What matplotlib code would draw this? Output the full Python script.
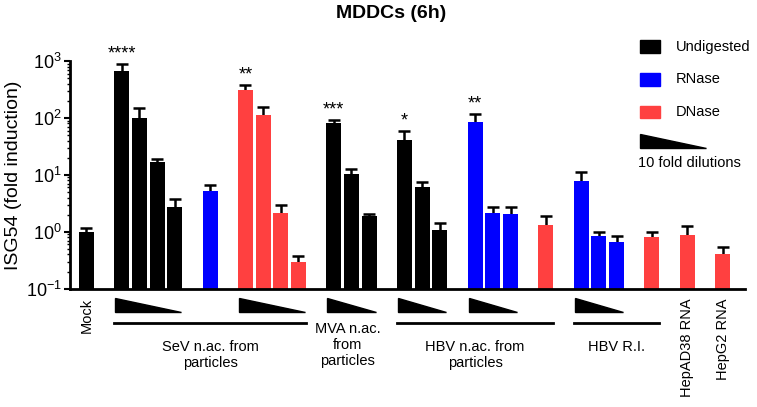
import matplotlib.pyplot as plt
from matplotlib.patches import Polygon, Rectangle
from matplotlib.lines import Line2D
from matplotlib.transforms import blended_transform_factory
from matplotlib.ticker import LogLocator, LogFormatterSciNotation, NullFormatter

plt.rcParams["font.family"] = ["Liberation Sans", "DejaVu Sans"]

BLACK = "#000000"
BLUE = "#0000ff"
RED = "#ff4040"

# fold induction (bar height) and top of the error bar
mock = [1.0]
mock_top = [1.15]
sev_undig = [680, 100, 16.6, 2.75]
sev_undig_top = [890, 150, 19.0, 3.8]
sev_rnase = [5.2]
sev_rnase_top = [6.5]
sev_dnase = [310, 111, 2.1, 0.30]
sev_dnase_top = [385, 155, 2.9, 0.37]
mva_undig = [81, 10.2, 1.87]
mva_undig_top = [92, 12.6, 2.05]
hbv_undig = [40.6, 6.1, 1.06]
hbv_undig_top = [59, 7.6, 1.41]
hbv_rnase = [85, 2.11, 2.03]
hbv_rnase_top = [117, 2.75, 2.75]
hbv_dnase = [1.33]
hbv_dnase_top = [1.9]
ri_rnase = [7.7, 0.83, 0.67]
ri_rnase_top = [11, 0.98, 0.84]
ri_dnase = [0.80]
ri_dnase_top = [0.99]
hepad38 = [0.87]
hepad38_top = [1.25]
hepg2 = [0.41]
hepg2_top = [0.53]

groups = [
    (mock, mock_top, BLACK),
    (sev_undig, sev_undig_top, BLACK),
    (sev_rnase, sev_rnase_top, BLUE),
    (sev_dnase, sev_dnase_top, RED),
    (mva_undig, mva_undig_top, BLACK),
    (hbv_undig, hbv_undig_top, BLACK),
    (hbv_rnase, hbv_rnase_top, BLUE),
    (hbv_dnase, hbv_dnase_top, RED),
    (ri_rnase, ri_rnase_top, BLUE),
    (ri_dnase, ri_dnase_top, RED),
    (hepad38, hepad38_top, RED),
    (hepg2, hepg2_top, RED),
]

# significance stars over the first bar of a group
stars = [(1, "****"), (3, "**"), (4, "***"), (5, "*"), (6, "**")]
# groups with a dilution wedge underneath
wedges = [1, 3, 4, 5, 6, 8]
# (first group, last group, label)
spans = [(1, 3, "SeV n.ac. from\nparticles"),
         (5, 7, "HBV n.ac. from\nparticles"),
         (8, 9, "HBV R.I.")]
rot_labels = [(0, "Mock"), (10, "HepAD38 RNA"), (11, "HepG2 RNA")]

W, H = 757, 407
fig = plt.figure(figsize=(W / 100, H / 100), dpi=100)
ax = fig.add_axes([70 / W, (H - 288.7) / H, 675 / W, (288.7 - 61) / H])

bw = 0.85
pos = []
cursor = 0
for vals, tops, col in groups:
    xs = list(range(cursor, cursor + len(vals)))
    pos.append(xs)
    ax.bar(xs, vals, width=bw, color=col, zorder=2, linewidth=0)
    up = [t - v for v, t in zip(vals, tops)]
    eb = ax.errorbar(xs, vals, yerr=[[0] * len(vals), up], fmt="none",
                     ecolor="black", elinewidth=1.8, capsize=4.5,
                     capthick=1.8, zorder=1)
    eb[1][0].set_visible(False)
    cursor += len(vals) + 1

ax.set_yscale("log")
ax.set_ylim(0.1, 1000)
ax.set_xlim(-0.93, 37.27)
ax.yaxis.set_major_locator(LogLocator(base=10, numticks=10))
ax.yaxis.set_major_formatter(LogFormatterSciNotation())
ax.yaxis.set_minor_locator(LogLocator(base=10, subs=range(2, 10), numticks=20))
ax.yaxis.set_minor_formatter(NullFormatter())
ax.tick_params(axis="y", which="major", length=4, width=1.5, labelsize=13, pad=2)
ax.tick_params(axis="y", which="minor", length=2.5, width=1)
ax.tick_params(axis="x", bottom=False, labelbottom=False)
for s in ["top", "right"]:
    ax.spines[s].set_visible(False)
for s in ["left", "bottom"]:
    ax.spines[s].set_linewidth(2)
ax.set_ylabel("ISG54 (fold induction)", fontsize=14, labelpad=3)

for g, txt in stars:
    ax.annotate(txt, (pos[g][0], groups[g][1][0]), xytext=(0, 1),
                textcoords="offset points", ha="center", va="bottom",
                fontsize=13)

tr = blended_transform_factory(ax.transData, ax.transAxes)
for g in wedges:
    x0 = pos[g][0] - bw / 2 + 0.05
    x1 = pos[g][-1] + bw / 2 - 0.05
    ax.add_patch(Polygon([(x0, -0.041), (x0, -0.102), (x1, -0.102)],
                         closed=True, color="black", transform=tr,
                         clip_on=False))

for g0, g1, txt in spans:
    x0 = pos[g0][0] - bw / 2
    x1 = pos[g1][-1] + bw / 2
    ax.add_line(Line2D([x0, x1], [-0.149, -0.149], color="black", lw=2,
                       transform=tr, clip_on=False))
    ax.text((x0 + x1) / 2, -0.226, txt, transform=tr, ha="center", va="top",
            fontsize=10.5, linespacing=1.2)

mva_x = (pos[4][0] + pos[4][-1]) / 2 - 0.2
ax.text(mva_x, -0.145, "MVA n.ac.\nfrom\nparticles", transform=tr,
        ha="center", va="top", fontsize=10.5, linespacing=1.2)

for g, txt in rot_labels:
    ax.text(pos[g][0], -0.041, txt, transform=tr, rotation=90, ha="center",
            va="top", fontsize=10.5)

fig.text(391 / W, 1 - 14 / H, "MDDCs (6h)", ha="center", va="center",
         fontsize=14, weight="bold")


# legend drawn by hand in figure pixels
def fx(x):
    return x / W


def fy(y):
    return 1 - y / H


legend = [("Undigested", BLACK), ("RNase", BLUE), ("DNase", RED)]
for i, (lab, col) in enumerate(legend):
    yc = 46.5 + i * 32.8
    fig.add_artist(Rectangle((fx(640), fy(yc + 6.3)), 20 / W, 12.6 / H,
                             transform=fig.transFigure, color=col))
    fig.text(fx(676), fy(yc), lab, ha="left", va="center", fontsize=10.5)
fig.add_artist(Polygon([(fx(640), fy(134)), (fx(640), fy(148)),
                        (fx(706), fy(148))], closed=True, color="black",
                       transform=fig.transFigure))
fig.text(fx(638), fy(163), "10 fold dilutions", ha="left", va="center",
         fontsize=10.5)

fig.savefig("out.png", dpi=100)
